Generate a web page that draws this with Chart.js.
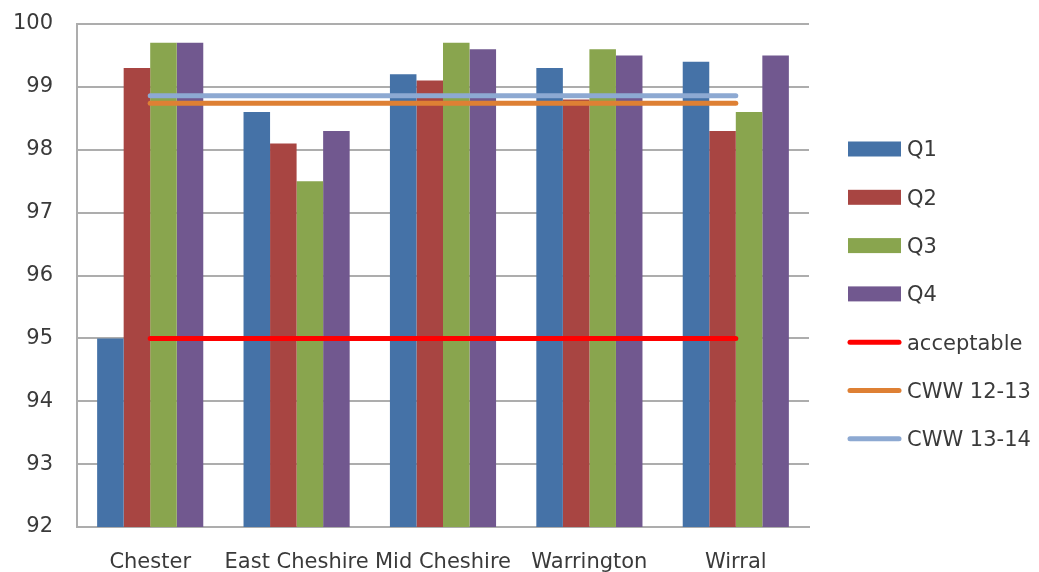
<!DOCTYPE html>
<html>
<head>
<meta charset="utf-8">
<script src="https://cdn.jsdelivr.net/npm/chart.js@4/dist/chart.umd.min.js"></script>
<style>
  html, body { margin: 0; padding: 0; background: #ffffff; }
  #wrap { width: 1039px; height: 572px; position: relative; }
</style>
</head>
<body>
<div id="wrap"><canvas id="chart" width="1039" height="572"></canvas></div>
<script>
// Categories and quarterly scores
const categories = ['Chester', 'East Cheshire', 'Mid Cheshire', 'Warrington', 'Wirral'];
const q1 = [95.0, 98.6, 99.2, 99.3, 99.4];
const q2 = [99.3, 98.1, 99.1, 98.8, 98.3];
const q3 = [99.7, 97.5, 99.7, 99.6, 98.6];
const q4 = [99.7, 98.3, 99.6, 99.5, 99.5];

// Reference levels (one value per category)
const acceptable = [95, 95, 95, 95, 95];
const cww1213 = [98.74, 98.74, 98.74, 98.74, 98.74];
const cww1314 = [98.86, 98.86, 98.86, 98.86, 98.86];

// Y axis range
const yMin = 92;
const yMax = 100;
const yStep = 1;

const FONT = 'DejaVu Sans';
const TEXT = '#3a3a3a';
const GRID = '#adadad';

// Legend drawn to the right of the plot area
const sideLegend = {
  id: 'sideLegend',
  afterDraw(chart) {
    const ctx = chart.ctx;
    const x0 = 848, sw = 53, tx = 907;
    const top = 149, step = 48.3;
    ctx.save();
    ctx.font = '21px "' + FONT + '"';
    ctx.textBaseline = 'middle';
    ctx.textAlign = 'left';
    chart.data.datasets.forEach((ds, i) => {
      const y = top + i * step;
      if (ds.type === 'line') {
        ctx.strokeStyle = ds.borderColor;
        ctx.lineWidth = 5;
        ctx.lineCap = 'round';
        ctx.beginPath();
        ctx.moveTo(x0 + 2, y);
        ctx.lineTo(x0 + sw - 2, y);
        ctx.stroke();
      } else {
        ctx.fillStyle = ds.backgroundColor;
        ctx.fillRect(x0, y - 7.5, sw, 15);
      }
      ctx.fillStyle = TEXT;
      ctx.fillText(ds.label, tx, y + 2);
    });
    ctx.restore();
  }
};

const bar = (label, data, color) => ({
  type: 'bar', label, data, backgroundColor: color, borderWidth: 0,
  order: 1, categoryPercentage: 0.725, barPercentage: 1.0
});
const line = (label, data, color) => ({
  type: 'line', label, data, borderColor: color, backgroundColor: color,
  borderWidth: 5, pointRadius: 0, borderCapStyle: 'round', tension: 0, order: 0, fill: false
});

new Chart(document.getElementById('chart'), {
  data: {
    labels: categories,
    datasets: [
      bar('Q1', q1, '#4572a7'),
      bar('Q2', q2, '#a84542'),
      bar('Q3', q3, '#89a54e'),
      bar('Q4', q4, '#71588f'),
      line('acceptable', acceptable, '#ff0000'),
      line('CWW 12-13', cww1213, '#de8034'),
      line('CWW 13-14', cww1314, '#8da9d2')
    ]
  },
  options: {
    responsive: false,
    animation: false,
    layout: { padding: { left: 0, right: 230, top: 24, bottom: 0 } },
    plugins: { legend: { display: false }, tooltip: { enabled: false } },
    scales: {
      x: {
        offset: true,
        grid: { display: false, drawTicks: false },
        border: { display: true, color: GRID, width: 2 },
        ticks: {
          autoSkip: false, maxRotation: 0, minRotation: 0, padding: 23,
          color: TEXT, font: { family: FONT, size: 21 }
        },
        afterFit(scale) {
          scale.height = 45;
          scale.paddingLeft = 0;
          scale.paddingRight = 0;
        }
      },
      y: {
        min: yMin, max: yMax,
        grid: { color: GRID, lineWidth: 2, drawTicks: false },
        border: { display: true, color: GRID, width: 2 },
        ticks: {
          stepSize: yStep, padding: 24,
          color: TEXT, font: { family: FONT, size: 21 }
        },
        afterFit(scale) {
          scale.width = 77;
          scale.paddingTop = 0;
          scale.paddingBottom = 0;
        }
      }
    }
  },
  plugins: [sideLegend]
});
</script>
</body>
</html>
